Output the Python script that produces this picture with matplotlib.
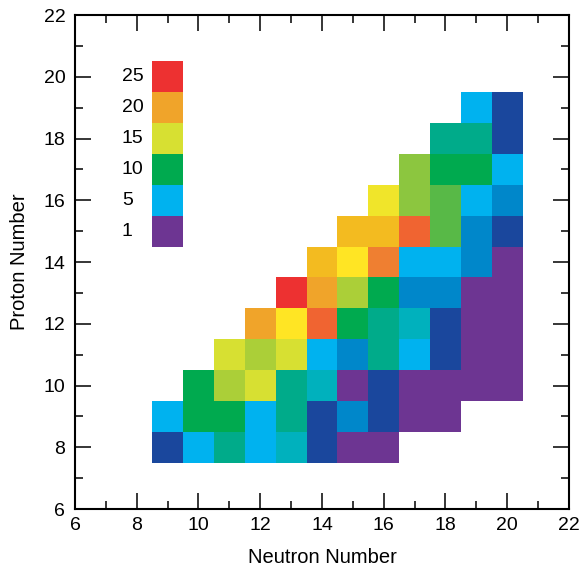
import numpy as np
import matplotlib
matplotlib.use('Agg')
import matplotlib.pyplot as plt
from matplotlib.colors import ListedColormap, BoundaryNorm
from matplotlib.ticker import MultipleLocator

plt.rcParams['font.family'] = ['Liberation Sans', 'DejaVu Sans']

# ── data ───────────────────────────────────────────────────────────────────
neutrons = np.arange(9, 21)          # N = 9 .. 20
protons = np.arange(8, 20)           # Z = 8 .. 19

# cell values, one row per Z (bottom -> top), columns N = 9 .. 20, 0 = empty
counts = np.array([
    [2, 5, 8, 5, 6, 2, 1, 1, 0, 0, 0, 0],         # Z = 8
    [5, 10, 10, 5, 8, 2, 3, 2, 1, 1, 0, 0],       # Z = 9
    [0, 10, 13, 15, 8, 6, 1, 2, 1, 1, 1, 1],      # Z = 10
    [0, 0, 15, 13, 15, 5, 3, 8, 5, 2, 1, 1],      # Z = 11
    [0, 0, 0, 20, 17, 23, 10, 8, 6, 2, 1, 1],     # Z = 12
    [0, 0, 0, 0, 25, 20, 13, 10, 3, 3, 1, 1],     # Z = 13
    [0, 0, 0, 0, 0, 18, 17, 21, 5, 5, 3, 1],      # Z = 14
    [0, 0, 0, 0, 0, 0, 18, 18, 23, 11, 3, 2],     # Z = 15
    [0, 0, 0, 0, 0, 0, 0, 16, 12, 11, 5, 3],      # Z = 16
    [0, 0, 0, 0, 0, 0, 0, 0, 12, 10, 10, 5],      # Z = 17
    [0, 0, 0, 0, 0, 0, 0, 0, 0, 8, 8, 2],         # Z = 18
    [0, 0, 0, 0, 0, 0, 0, 0, 0, 0, 5, 2],         # Z = 19
])

# discrete colour scale
levels = [1, 2, 3, 5, 6, 8, 10, 11, 12, 13, 15, 16, 17, 18, 20, 21, 23, 25]
colors = ['#6d3592', '#1a479d', '#0087ca', '#00b2ef', '#00b1bd', '#00ab8a',
          '#00aa4f', '#58b947', '#8cc63f', '#abcf38', '#d7e032', '#f0e52a',
          '#ffe524', '#f3bb20', '#f0a42a', '#ef7f31', '#f06431', '#ed3131']

key_values = [25, 20, 15, 10, 5, 1]

# ── plot ───────────────────────────────────────────────────────────────────
cmap = ListedColormap(colors)
bounds = [levels[0] - 0.5] + [(a + b) / 2 for a, b in zip(levels[:-1], levels[1:])] + [levels[-1] + 0.5]
norm = BoundaryNorm(bounds, cmap.N)

fig = plt.figure(figsize=(5.83, 5.69), dpi=100)
ax = fig.add_axes([0.1286, 0.1054, 0.8473, 0.8682])

n_edges = np.append(neutrons - 0.5, neutrons[-1] + 0.5)
z_edges = np.append(protons - 0.5, protons[-1] + 0.5)
data = np.ma.masked_equal(counts, 0)
ax.pcolormesh(n_edges, z_edges, data, cmap=cmap, norm=norm)

# colour key drawn as a column of cells
key_z = 20 - np.arange(len(key_values))
key_cols = [colors[levels.index(v)] for v in key_values]
ax.bar(np.full(len(key_values), 9), 1.0, width=1.0, bottom=key_z - 0.5,
       color=key_cols, linewidth=0)
for z, v in zip(key_z, key_values):
    ax.text(7.52, z, str(v), ha='left', va='center', fontsize=14)

ax.set_xlim(6, 22)
ax.set_ylim(6, 22)
ax.xaxis.set_major_locator(MultipleLocator(2))
ax.yaxis.set_major_locator(MultipleLocator(2))
ax.xaxis.set_minor_locator(MultipleLocator(1))
ax.yaxis.set_minor_locator(MultipleLocator(1))
ax.tick_params(which='both', direction='in', top=True, right=True,
               width=1.1, labelsize=14, color='k')
ax.tick_params(which='major', length=11.5)
ax.tick_params(which='minor', length=5.8)
ax.tick_params(axis='x', pad=6)
ax.tick_params(axis='y', pad=7)
for s in ax.spines.values():
    s.set_linewidth(1.5)

ax.set_xlabel('Neutron Number', fontsize=14.5, labelpad=10)
ax.set_ylabel('Proton Number', fontsize=14.5, labelpad=10)

fig.savefig('out.png', dpi=100)
